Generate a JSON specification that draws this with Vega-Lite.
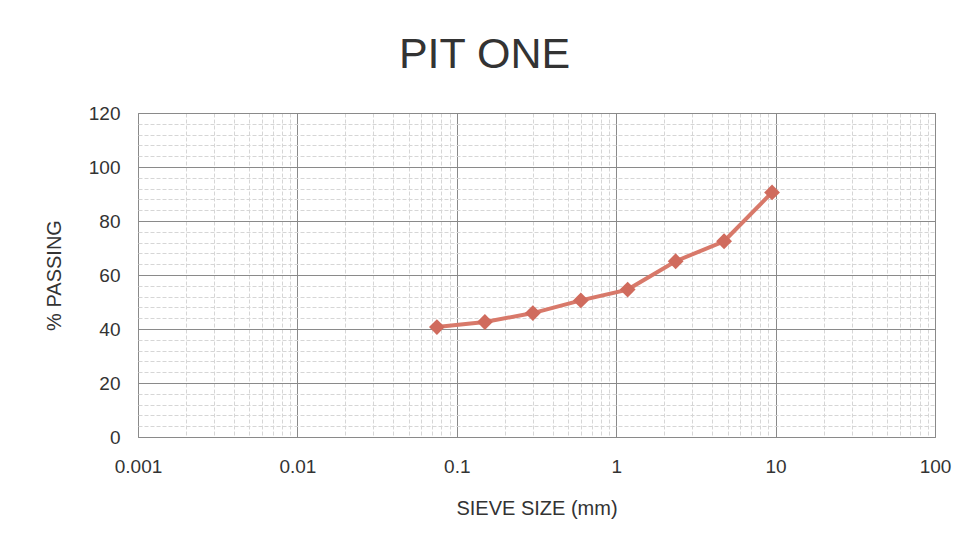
{
  "$schema": "https://vega.github.io/schema/vega-lite/v6.json",
  "width": 797,
  "height": 324,
  "autosize": {"type": "none"},
  "padding": {"left": 138, "top": 113, "right": 35, "bottom": 114},
  "background": "#ffffff",
  "title": {
    "text": "PIT ONE",
    "font": "Liberation Sans",
    "fontSize": 43,
    "fontWeight": "normal",
    "color": "#333333",
    "anchor": "middle",
    "frame": "group",
    "dx": -52,
    "offset": 27
  },
  "data": {
    "values": [
      {"size_mm": 0.075, "passing": 40.7},
      {"size_mm": 0.15, "passing": 42.6},
      {"size_mm": 0.3, "passing": 45.9},
      {"size_mm": 0.6, "passing": 50.6},
      {"size_mm": 1.18, "passing": 54.6},
      {"size_mm": 2.36, "passing": 65.1},
      {"size_mm": 4.75, "passing": 72.5},
      {"size_mm": 9.5, "passing": 90.6}
    ]
  },
  "encoding": {
    "x": {
      "field": "size_mm",
      "type": "quantitative",
      "scale": {"type": "log", "domain": [0.001, 100], "nice": false},
      "axis": {
        "title": "SIEVE SIZE (mm)",
        "values": [0.001, 0.002, 0.003, 0.004, 0.005, 0.006, 0.007, 0.008, 0.009,
                   0.01, 0.02, 0.03, 0.04, 0.05, 0.06, 0.07, 0.08, 0.09,
                   0.1, 0.2, 0.3, 0.4, 0.5, 0.6, 0.7, 0.8, 0.9,
                   1, 2, 3, 4, 5, 6, 7, 8, 9,
                   10, 20, 30, 40, 50, 60, 70, 80, 90, 100],
        "labelExpr": "abs(log(datum.value)/LN10 - round(log(datum.value)/LN10)) < 0.001 ? format(datum.value, '~g') : ''",
        "gridColor": {"condition": {"test": "abs(log(datum.value)/LN10 - round(log(datum.value)/LN10)) < 0.001", "value": "#8a8a8a"}, "value": "#d6d6d6"},
        "gridDash": {"condition": {"test": "abs(log(datum.value)/LN10 - round(log(datum.value)/LN10)) < 0.001", "value": []}, "value": [4, 2]},
        "labelFlush": false,
        "labelOverlap": false,
        "labelPadding": 20,
        "titlePadding": 22
      }
    },
    "y": {
      "field": "passing",
      "type": "quantitative",
      "scale": {"domain": [0, 120], "nice": false},
      "axis": {
        "title": "% PASSING",
        "values": [0, 4, 8, 12, 16, 20, 24, 28, 32, 36, 40, 44, 48, 52, 56, 60, 64, 68, 72, 76, 80, 84, 88, 92, 96, 100, 104, 108, 112, 116, 120],
        "labelExpr": "datum.value % 20 === 0 ? datum.label : ''",
        "gridColor": {"condition": {"test": "datum.value % 20 === 0", "value": "#8a8a8a"}, "value": "#d6d6d6"},
        "gridDash": {"condition": {"test": "datum.value % 20 === 0", "value": []}, "value": [4, 2]},
        "labelFlush": false,
        "labelOverlap": false,
        "labelPadding": 18,
        "titlePadding": 24
      }
    }
  },
  "layer": [
    {
      "mark": {"type": "line", "color": "#d8796a", "strokeWidth": 4}
    },
    {
      "mark": {"type": "point", "shape": "diamond", "filled": true, "size": 250, "color": "#d06b5d", "opacity": 1}
    }
  ],
  "config": {
    "view": {"stroke": "#8a8a8a", "strokeWidth": 1},
    "axis": {
      "domain": false,
      "ticks": false,
      "grid": true,
      "gridWidth": 1,
      "labelFont": "Liberation Sans",
      "labelFontSize": 19,
      "labelColor": "#333333",
      "titleFont": "Liberation Sans",
      "titleFontSize": 20,
      "titleFontWeight": "normal",
      "titleColor": "#333333"
    }
  }
}
